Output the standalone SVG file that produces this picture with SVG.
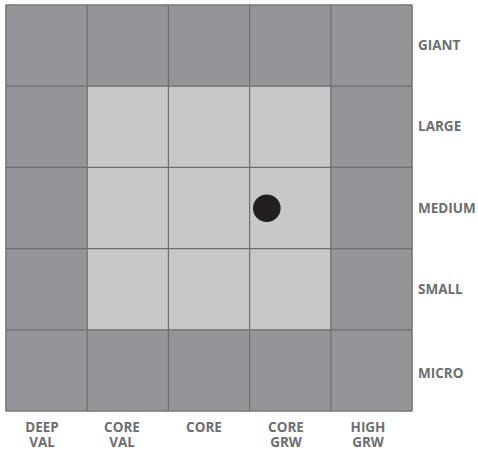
<svg xmlns="http://www.w3.org/2000/svg" width="478" height="451" viewBox="0 0 478 451">
<style>
.dk{fill:#939598}
.lt{fill:#c7c8ca}
.ln{stroke:#6d6e71;stroke-width:1.2;fill:none}
text{font-family:"Open Sans","Liberation Sans",sans-serif;font-weight:700;font-size:13.5px;fill:#6d6e71}
.c{text-anchor:middle}
</style>
<rect width="478" height="451" fill="#fff"/>
<g id="grid">
<rect class="dk" x="6" y="5" width="406" height="406"/>
<rect class="lt" x="87.2" y="86.2" width="243.6" height="243.6"/>
<rect x="5.5" y="4.5" width="407" height="407" fill="none" stroke="#bcbec0" stroke-width="1"/>
</g>
<g id="connectors">
<path class="ln" d="M87.2 5V411M168.4 5V411M249.6 5V411M330.8 5V411M6 86.2H412M6 167.4H412M6 248.6H412M6 329.8H412M6 411H412M412 5V411M6 5H412M6 5V411"/>
</g>
<g id="dot"><circle cx="266.8" cy="208.3" r="13.8" fill="#231f20"/></g>
<g id="rowlabels">
<text x="418" y="50">GIANT</text>
<text x="418" y="131">LARGE</text>
<text x="418" y="213">MEDIUM</text>
<text x="418" y="294">SMALL</text>
<text x="418" y="378">MICRO</text>
</g>
<g id="collabels">
<text class="c" x="42" y="432">DEEP</text><text class="c" x="42" y="447">VAL</text>
<text class="c" x="122" y="432">CORE</text><text class="c" x="122" y="447">VAL</text>
<text class="c" x="204" y="432">CORE</text>
<text class="c" x="286" y="432">CORE</text><text class="c" x="286" y="447">GRW</text>
<text class="c" x="368" y="432">HIGH</text><text class="c" x="368" y="447">GRW</text>
</g>
</svg>
